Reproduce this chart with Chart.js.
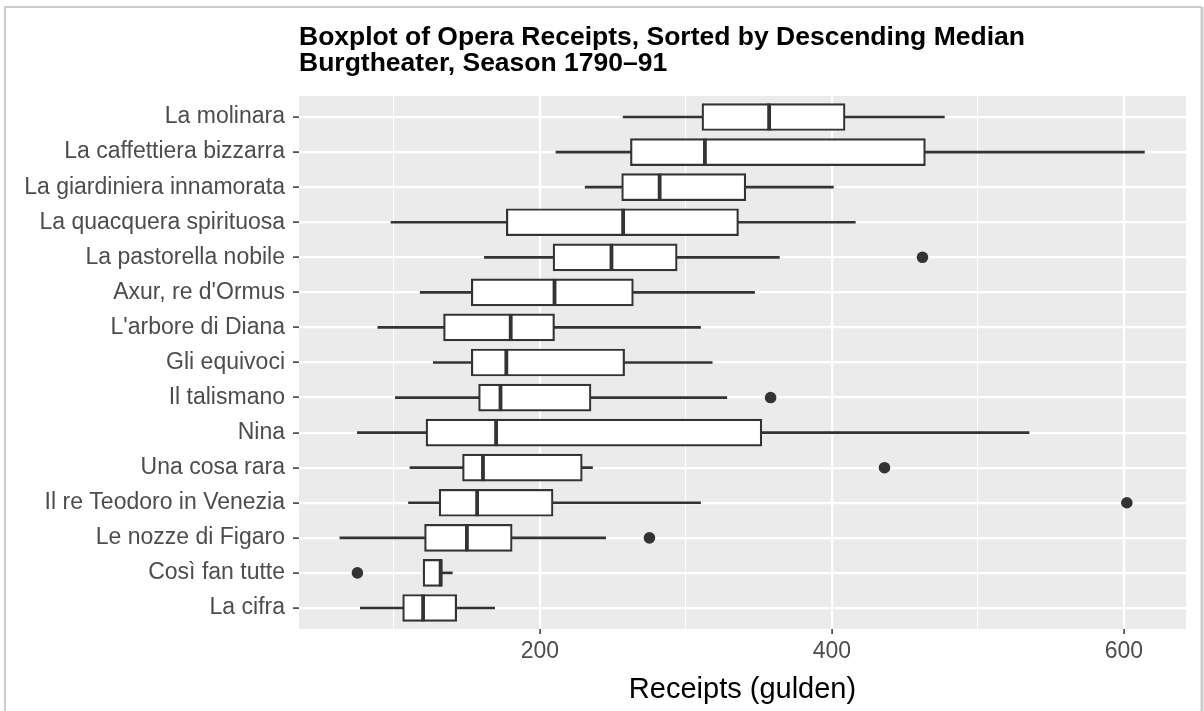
<!DOCTYPE html>
<html>
<head>
<meta charset="utf-8">
<script src="https://cdn.jsdelivr.net/npm/chart.js@4"></script>
<style>
  html, body { margin: 0; padding: 0; background: #fff; }
  #wrap { width: 1204px; height: 711px; }
</style>
</head>
<body>
<div id="wrap"><canvas id="box"></canvas></div>
<script>
// operas, top to bottom (sorted by descending median)
var operas = [
  'La molinara',
  'La caffettiera bizzarra',
  'La giardiniera innamorata',
  'La quacquera spirituosa',
  'La pastorella nobile',
  "Axur, re d'Ormus",
  "L'arbore di Diana",
  'Gli equivoci',
  'Il talismano',
  'Nina',
  'Una cosa rara',
  'Il re Teodoro in Venezia',
  'Le nozze di Figaro',
  'Così fan tutte',
  'La cifra'
];
var whiskerLow  = [257, 211, 231,  98, 162, 118,  89, 127, 101,  75, 111, 110,  63, 120,  77];
var lowerHinge  = [311, 262, 256, 177, 209, 153, 134, 153, 158, 122, 147, 131, 121, 120, 106];
var medians     = [357, 313, 282, 257, 249, 210, 180, 177, 173, 170, 161, 157, 150, 132, 120];
var upperHinge  = [409, 464, 341, 336, 294, 264, 210, 258, 235, 352, 229, 209, 181, 133, 143];
var whiskerHigh = [477, 614, 401, 416, 364, 347, 310, 318, 328, 535, 236, 310, 245, 140, 169];

var outlierOperas = ['La pastorella nobile', 'Il talismano', 'Una cosa rara', 'Il re Teodoro in Venezia', 'Le nozze di Figaro', 'Così fan tutte'];
var outlierValues = [462, 358, 436, 602, 275, 75];

var xTicks = [100, 200, 300, 400, 500, 600];

var ink = '#333333';
var font = 'Liberation Sans, Arial, Helvetica, sans-serif';

function rangeData(lo, hi) {
  return operas.map(function(name, i) { return {y: i, x: [lo[i], hi[i]]}; });
}

var panelBg = {
  id: 'panelBg',
  beforeDraw: function(chart) {
    var a = chart.chartArea, ctx = chart.ctx;
    ctx.save();
    ctx.fillStyle = '#ebebeb';
    ctx.fillRect(a.left, a.top, a.right - a.left, a.bottom - a.top);
    ctx.restore();
  },
  afterDraw: function(chart) {
    // light frame round the figure
    var ctx = chart.ctx;
    ctx.save();
    ctx.strokeStyle = '#cccccc';
    ctx.lineWidth = 2;
    ctx.beginPath();
    ctx.moveTo(5, 712);
    ctx.lineTo(5, 7);
    ctx.lineTo(1202, 7);
    ctx.stroke();
    ctx.lineWidth = 3;
    ctx.beginPath();
    ctx.moveTo(1202, 7);
    ctx.lineTo(1202, 712);
    ctx.stroke();
    ctx.restore();
  }
};

var ctx = document.getElementById('box').getContext('2d');
new Chart(ctx, {
  type: 'bar',
  data: {
    datasets: [
      {
        label: 'whiskers',
        data: rangeData(whiskerLow, whiskerHigh),
        backgroundColor: ink,
        borderWidth: 0,
        barThickness: 2,
        grouped: false,
        order: 4
      },
      {
        label: 'boxes',
        data: rangeData(lowerHinge, upperHinge),
        backgroundColor: '#ffffff',
        borderColor: ink,
        borderWidth: 2.2,
        borderSkipped: false,
        barThickness: 27,
        grouped: false,
        order: 3
      },
      {
        type: 'scatter',
        label: 'median',
        data: operas.map(function(name, i) { return {x: medians[i], y: i}; }),
        pointStyle: 'line',
        pointRotation: 90,
        pointRadius: 13.5,
        pointBorderColor: ink,
        pointBorderWidth: 3.8,
        order: 2
      },
      {
        type: 'scatter',
        label: 'outliers',
        data: outlierOperas.map(function(name, i) { return {x: outlierValues[i], y: operas.indexOf(name)}; }),
        pointStyle: 'circle',
        pointRadius: 5.8,
        pointBackgroundColor: ink,
        pointBorderWidth: 0,
        order: 1
      }
    ]
  },
  options: {
    indexAxis: 'y',
    responsive: true,
    maintainAspectRatio: false,
    animation: false,
    events: [],
    layout: { padding: { left: 0, right: 18, top: 0, bottom: 0 } },
    plugins: {
      legend: { display: false },
      tooltip: { enabled: false },
      title: {
        display: true,
        text: ['Boxplot of Opera Receipts, Sorted by Descending Median', 'Burgtheater, Season 1790\u201391'],
        align: 'start',
        fullSize: false,
        color: '#000',
        font: { family: font, size: 26.5, weight: 'bold', lineHeight: 1.0 },
        padding: { top: 24, bottom: 19 }
      }
    },
    scales: {
      x: {
        type: 'linear',
        min: 35,
        max: 642.5,
        afterBuildTicks: function(scale) {
          scale.ticks = xTicks.map(function(v) { return {value: v}; });
        },
        afterFit: function(scale) { scale.height = 82; },
        border: { display: false },
        grid: {
          color: '#ffffff',
          lineWidth: function(c) { return c.tick && c.tick.value % 200 === 0 ? 2.2 : 1.1; },
          tickColor: function(c) { return c.tick && c.tick.value % 200 === 0 ? ink : 'rgba(0,0,0,0)'; },
          tickLength: 5,
          tickWidth: 1.5
        },
        ticks: {
          autoSkip: false,
          maxRotation: 0,
          padding: 4,
          color: '#4d4d4d',
          font: { family: font, size: 23 },
          callback: function(v) { return v % 200 === 0 ? String(v) : ''; }
        },
        title: {
          display: true,
          text: 'Receipts (gulden)',
          color: '#000',
          font: { family: font, size: 29 },
          padding: { top: 0, bottom: 4 }
        }
      },
      y: {
        type: 'linear',
        min: -0.6,
        max: 14.6,
        reverse: true,
        offset: false,
        afterBuildTicks: function(scale) {
          scale.ticks = operas.map(function(name, i) { return {value: i}; });
        },
        afterFit: function(scale) { scale.width = 299; },
        border: { display: false },
        grid: {
          offset: false,
          color: '#ffffff',
          lineWidth: 2.2,
          tickColor: ink,
          tickLength: 6,
          tickWidth: 1.5
        },
        ticks: {
          autoSkip: false,
          padding: 8,
          color: '#4d4d4d',
          font: { family: font, size: 23 },
          callback: function(v) { return operas[v]; }
        }
      }
    }
  },
  plugins: [panelBg]
});
</script>
</body>
</html>
